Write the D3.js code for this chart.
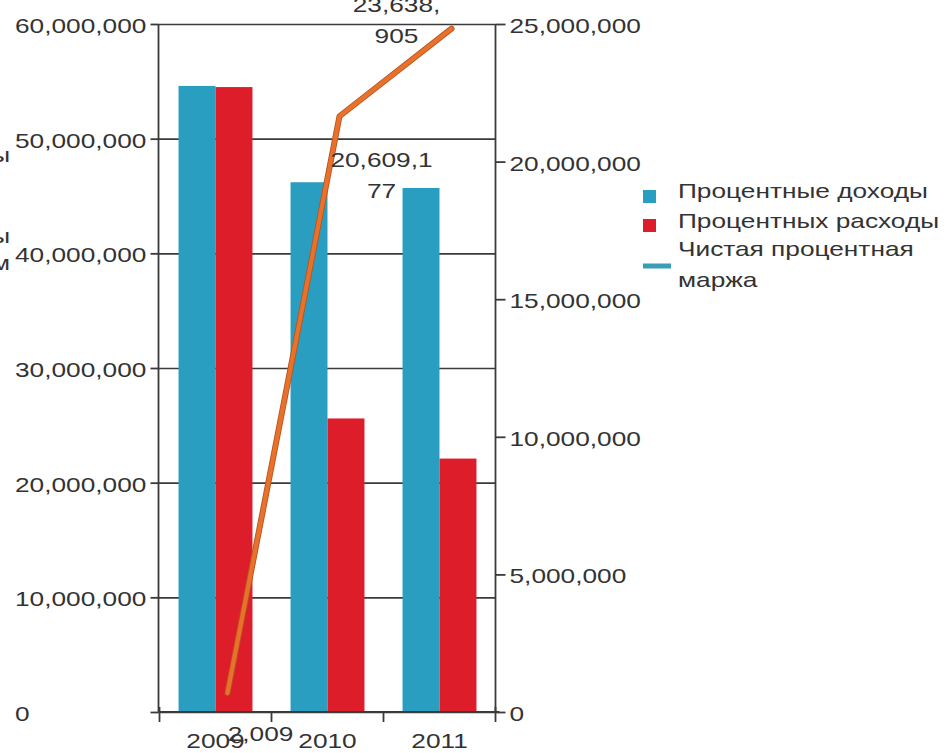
<!DOCTYPE html>
<html>
<head>
<meta charset="utf-8">
<script src="https://cdn.jsdelivr.net/npm/d3@7/dist/d3.min.js"></script>
<style>
  html, body { margin: 0; padding: 0; background: #ffffff; }
  svg { display: block; }
</style>
</head>
<body>
<svg id="chart" width="949" height="753"></svg>
<script>
// ---------- data ----------
const categories = ["2009", "2010", "2011"];
const interestIncome = [54600000, 46200000, 45700000];
const interestExpense = [54500000, 25600000, 22100000];
const netInterestMargin = [660000, 20609177, 23638905];
const marginLabels = [["2,009"], ["20,609,1", "77"], ["23,638,", "905"]];
const leftTicks = [0, 10000000, 20000000, 30000000, 40000000, 50000000, 60000000];
const rightTicks = [0, 5000000, 10000000, 15000000, 20000000, 25000000];
const seriesNames = ["Процентные доходы", "Процентных расходы", "Чистая процентная маржа"];
const legendLineLabel = ["Чистая процентная", "маржа"];
const leftAxisTitle = ["Процентные доходы", "Процентные расходы", "по годам"];
const leftMax = 60000000, rightMax = 25000000, lineScaleMax = 23800000;

// ---------- layout / style ----------
const FONT = "'Liberation Sans', Arial, Helvetica, sans-serif";
const FS = 21, K = 1.25;
const TXT = "#333333", AX = "#3a3a3a";
const C_INC = "#2a9ec1", C_EXP = "#dd1e2a", C_LINE = "#e8722b", C_LEG_LINE = "#3a9db8";
const L = 158.5, R = 495.5, T = 24, B = 712;

const svg = d3.select("#chart");

function stretch(sel) {
  sel.each(function () {
    const w = this.getComputedTextLength();
    if (w > 0) {
      this.setAttribute("textLength", (w * K).toFixed(2));
      this.setAttribute("lengthAdjust", "spacingAndGlyphs");
    }
  });
}

const x = d3.scaleBand().domain(categories).range([L + 1, R]).paddingInner(0.34).paddingOuter(0.17);
const xs = d3.scaleBand().domain(["inc", "exp"]).range([0, x.bandwidth()]);
const yL = d3.scaleLinear().domain([0, leftMax]).range([B, T]);
const yR = d3.scaleLinear().domain([0, rightMax]).range([B, T]);
const yLine = d3.scaleLinear().domain([0, lineScaleMax]).range([B, T]);

// gridlines
const grid = svg.append("g").attr("transform", `translate(${L},0)`)
  .call(d3.axisLeft(yL).tickValues(leftTicks).tickSize(-(R - L)).tickFormat(""));
grid.select(".domain").remove();
grid.selectAll("line").attr("stroke", AX).attr("stroke-width", 1.6);

// bars
const barData = categories.map((c, i) => ({ c, inc: interestIncome[i], exp: interestExpense[i] }));
const groups = svg.append("g").selectAll("g").data(barData).join("g")
  .attr("transform", d => `translate(${x(d.c)},0)`);
groups.append("rect").attr("x", xs("inc")).attr("width", xs.bandwidth())
  .attr("y", d => yL(d.inc)).attr("height", d => B - yL(d.inc)).attr("fill", C_INC);
groups.append("rect").attr("x", xs("exp")).attr("width", xs.bandwidth())
  .attr("y", d => yL(d.exp)).attr("height", d => B - yL(d.exp)).attr("fill", C_EXP);

// left axis
const gl = svg.append("g").attr("transform", `translate(${L},0)`)
  .call(d3.axisLeft(yL).tickValues(leftTicks).tickSize(8).tickFormat(d3.format(",")));
gl.select(".domain").attr("stroke", AX).attr("stroke-width", 1.8).attr("d", `M0,${T}V${B}`);
gl.selectAll(".tick line").attr("stroke", AX).attr("stroke-width", 1.8);
gl.selectAll(".tick text").attr("x", 15 - L).attr("text-anchor", "start").attr("dy", "0.4em")
  .attr("font-size", FS).attr("font-family", FONT).attr("fill", TXT).call(stretch);

// right axis
const gr = svg.append("g").attr("transform", `translate(${R},0)`)
  .call(d3.axisRight(yR).tickValues(rightTicks).tickSize(10).tickPadding(4).tickFormat(d3.format(",")));
gr.select(".domain").attr("stroke", AX).attr("stroke-width", 1.8).attr("d", `M0,${T}V${B}`);
gr.selectAll(".tick line").attr("stroke", AX).attr("stroke-width", 1.8);
gr.selectAll(".tick text").attr("dy", "0.4em")
  .attr("font-size", FS).attr("font-family", FONT).attr("fill", TXT).call(stretch);

// bottom axis
const gb = svg.append("g").attr("transform", `translate(0,${B})`)
  .call(d3.axisBottom(x).tickSize(0).tickPadding(21));
gb.select(".domain").attr("stroke", AX).attr("stroke-width", 1.8).attr("d", `M${L},0H${R + 4}`);
gb.selectAll(".tick text").attr("font-size", FS).attr("font-family", FONT).attr("fill", TXT).call(stretch);
const half = x.step() * x.paddingInner() / 2;
const bounds = categories.map(c => x(c) - half).concat([x(categories[categories.length - 1]) + x.bandwidth() + half]);
gb.selectAll(".bound").data(bounds).join("line").attr("class", "bound")
  .attr("x1", d => d).attr("x2", d => d).attr("y1", (d, i) => (i === 0 || i === bounds.length - 1) ? -5 : 0).attr("y2", 10)
  .attr("stroke", AX).attr("stroke-width", 1.8);

// line series
const lineOffset = 12;
const pts = categories.map((c, i) => [x(c) + x.bandwidth() / 2 + lineOffset, yLine(netInterestMargin[i])]);
const lineGen = d3.line();
svg.append("path").attr("d", lineGen(pts)).attr("fill", "none")
  .attr("stroke", "#b8541f").attr("stroke-width", 6).attr("stroke-linejoin", "round").attr("stroke-linecap", "round");
svg.append("path").attr("d", lineGen(pts)).attr("fill", "none")
  .attr("stroke", C_LINE).attr("stroke-width", 4.2).attr("stroke-linejoin", "round").attr("stroke-linecap", "round");

// value labels
const labelDx = [45, 54, -43];
const labelBase = [741, 167, 12];
const LH = 31;
categories.forEach((c, i) => {
  const cx = x(c) + x.bandwidth() / 2 + labelDx[i];
  marginLabels[i].forEach((t, j) => {
    svg.append("text").attr("x", cx).attr("y", labelBase[i] + j * LH).attr("text-anchor", "middle")
      .attr("font-size", FS).attr("font-family", FONT).attr("fill", TXT).text(t).call(stretch);
  });
});

// left axis title (clipped at the page edge)
const titleY = [162, 243, 270];
leftAxisTitle.forEach((t, i) => {
  svg.append("text").attr("x", 10).attr("y", titleY[i]).attr("text-anchor", "end")
    .attr("font-size", FS).attr("font-family", FONT).attr("fill", TXT).text(t).call(stretch);
});

// legend
const lg = svg.append("g");
const LX = 643, TX = 678;
lg.append("rect").attr("x", LX).attr("y", 190).attr("width", 13).attr("height", 13).attr("fill", C_INC);
lg.append("text").attr("x", TX).attr("y", 198).attr("font-size", FS).attr("font-family", FONT).attr("fill", TXT)
  .text(seriesNames[0]).call(stretch);
lg.append("rect").attr("x", LX).attr("y", 219).attr("width", 13).attr("height", 13).attr("fill", C_EXP);
lg.append("text").attr("x", TX).attr("y", 228).attr("font-size", FS).attr("font-family", FONT).attr("fill", TXT)
  .text(seriesNames[1]).call(stretch);
lg.append("line").attr("x1", LX).attr("x2", LX + 28).attr("y1", 266).attr("y2", 266)
  .attr("stroke", C_LEG_LINE).attr("stroke-width", 5);
legendLineLabel.forEach((t, j) => {
  lg.append("text").attr("x", TX).attr("y", 256 + j * 31).attr("font-size", FS).attr("font-family", FONT).attr("fill", TXT)
    .text(t).call(stretch);
});
</script>
</body>
</html>
